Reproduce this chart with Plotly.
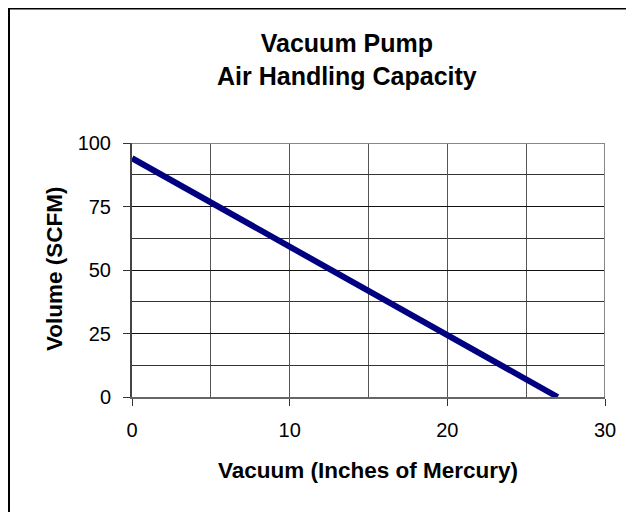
import plotly.graph_objects as go

vacuum_inhg = [0, 27]
volume_scfm = [94, 0]
x_ticks = [0, 10, 20, 30]
y_ticks = [0, 25, 50, 75, 100]

W, H = 634, 512
OFF = 8  # page body margin offset
L, T = 132 - OFF, 143 - OFF
R = W - (605 - OFF)
B = H - (397 - OFF)
PW, PH = W - L - R, H - T - B


def px(xp):
    # page x -> paper coordinate
    return (xp - OFF - L) / PW


def py(yp):
    # page y -> paper coordinate
    return (H - B - (yp - OFF)) / PH


fig = go.Figure()
fig.add_trace(go.Scatter(x=vacuum_inhg, y=volume_scfm, mode="lines",
                         line=dict(color="#000080", width=6), showlegend=False,
                         hoverinfo="skip"))

fig.update_layout(
    width=W, height=H,
    margin=dict(l=L, r=R, t=T, b=B),
    paper_bgcolor="white", plot_bgcolor="white",
    font=dict(family="Arial, Liberation Sans, sans-serif", color="black", size=20),
    showlegend=False,
)
fig.update_xaxes(range=[0, 30], tickvals=x_ticks, ticks="outside", ticklen=7,
                 tickcolor="#333333", showline=True, linecolor="#666666", linewidth=2,
                 showgrid=True, gridcolor="#555555", gridwidth=1,
                 minor=dict(dtick=5, showgrid=True, gridcolor="#555555", gridwidth=1),
                 zeroline=False, mirror=False, tickfont=dict(size=20),
                 ticklabelstandoff=7)
fig.update_yaxes(range=[0, 100], tickvals=y_ticks, ticks="outside", ticklen=7,
                 tickcolor="#333333", showline=True, linecolor="#444444", linewidth=2,
                 showgrid=True, gridcolor="#111111", gridwidth=1,
                 minor=dict(dtick=12.5, showgrid=True, gridcolor="#333333", gridwidth=1),
                 zeroline=False, mirror=False, tickfont=dict(size=20),
                 ticklabelstandoff=8)

# gray frame on top and right of plot area
fig.add_shape(type="line", xref="x", yref="y", x0=0, x1=30, y0=100, y1=100,
              line=dict(color="#888888", width=2))
fig.add_shape(type="line", xref="x", yref="y", x0=30, x1=30, y0=0, y1=100,
              line=dict(color="#888888", width=2))

# outer chart border (left and top visible)
fig.add_shape(type="rect", xref="paper", yref="paper",
              x0=px(9), x1=px(660), y0=py(540), y1=py(8.5),
              line=dict(color="black", width=2), layer="above")

fig.add_annotation(text="<b>Vacuum Pump</b><br><b>Air Handling Capacity</b>",
                   xref="paper", yref="paper", x=px(347), y=py(60),
                   showarrow=False, font=dict(size=25), xanchor="center", yanchor="middle")
fig.add_annotation(text="<b>Vacuum (Inches of Mercury)</b>",
                   xref="paper", yref="paper", x=px(368), y=py(470),
                   showarrow=False, font=dict(size=22.5), xanchor="center", yanchor="middle")
fig.add_annotation(text="<b>Volume (SCFM)</b>",
                   xref="paper", yref="paper", x=px(54), y=py(269),
                   showarrow=False, font=dict(size=22.5), textangle=-90,
                   xanchor="center", yanchor="middle")

fig.write_html("out.html")
